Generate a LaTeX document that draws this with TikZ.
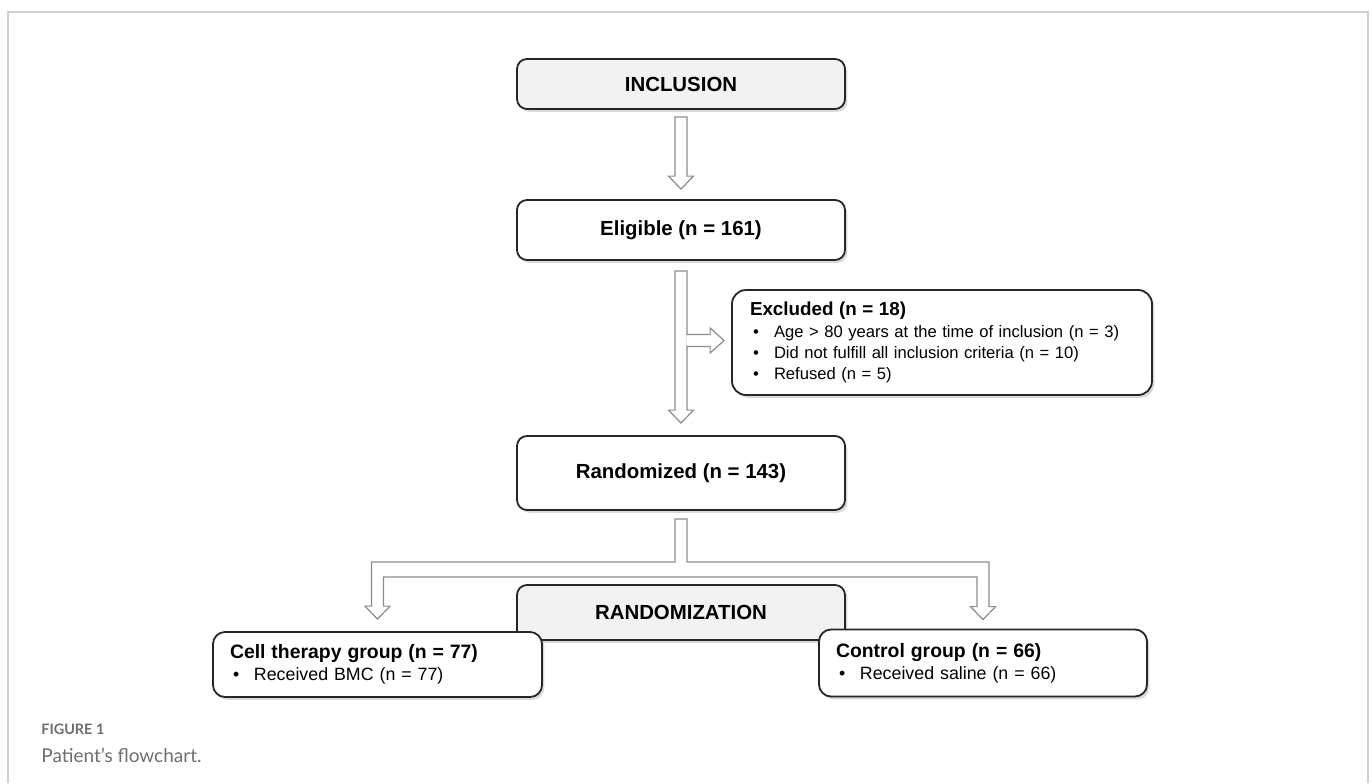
\documentclass[tikz,border=0pt]{standalone}
\usepackage{fontspec}
\setmainfont{Liberation Sans}
\newfontfamily\capfont{Lato}
\usetikzlibrary{calc,shadows}
\definecolor{boxgray}{HTML}{F2F2F2}
\definecolor{arrowgray}{HTML}{8C8C8C}
\definecolor{framegray}{HTML}{CFCFCF}
\definecolor{capgray}{HTML}{6D6E71}
\newcommand{\bulletitem}{\makebox[12pt][l]{\hspace{1.5pt}\textbullet}}
% block arrow pointing down, from top point #1 to tip #2
\newcommand{\blockdown}[2]{%
\draw[arrowline] ($(#1)+(-6,0)$) -- ($(#2)+(-6,-13)$) -- ($(#2)+(-12.5,-13)$) -- (#2) -- ($(#2)+(12.5,-13)$) -- ($(#2)+(6,-13)$) -- ($(#1)+(6,0)$) -- cycle;}

\begin{document}
\begin{tikzpicture}[x=0.5pt,y=-0.5pt,
  shade box/.style={drop shadow={shadow xshift=1.2pt,shadow yshift=-1.4pt,opacity=0.3}},
  stagebox/.style={draw=black!85,line width=0.9pt,rounded corners=5pt,fill=white,shade box,
    minimum width=164pt,inner sep=0pt,font=\fontsize{10.2}{12}\selectfont\bfseries},
  groupbox/.style={draw=black!85,line width=0.9pt,rounded corners=6pt,fill=white,shade box,
    align=left,inner xsep=8.5pt,inner ysep=0pt,font=\fontsize{8.9}{11}\selectfont},
  arrowline/.style={draw=arrowgray,line width=0.6pt,fill=white}]
\useasboundingbox (0,0) rectangle (1372,783);

% frame of the figure
\draw[framegray,line width=0.8pt] (8,783) -- (8,12) -- (1368,12) -- (1368,783);

\node[groupbox,text width=192pt,inner xsep=9pt,minimum height=52.5pt,rounded corners=7pt,
  font=\fontsize{8.3}{10.5}\selectfont] (excl) at (942,342.5)
  {{\fontsize{9.4}{11}\selectfont\bfseries Excluded (n = 18)}\\[0.6pt]
   \bulletitem Age > 80 years at the time of inclusion (n = 3)\\
   \bulletitem Did not fulfill all inclusion criteria (n = 10)\\
   \bulletitem Refused (n = 5)};
\node[stagebox,fill=boxgray,minimum height=25pt] (incl) at (681,84) {INCLUSION};
\node[stagebox,minimum height=30pt] (elig) at (681,230) {Eligible (n = 161)};
\node[stagebox,minimum height=37pt] (rand) at (681,473) {Randomized (n = 143)};

\coordinate (a1top) at ($(incl.south)+(0,7)$);
\coordinate (a1tip) at ($(elig.north)+(0,-10)$);
\blockdown{a1top}{a1tip}
\coordinate (a2top) at ($(elig.south)+(0,10)$);
\coordinate (a2tip) at ($(rand.north)+(0,-12)$);
\blockdown{a2top}{a2tip}
\coordinate (b2tip) at ($(excl.west)+(-7,-2)$);
\draw[arrowline] ($(b2tip -| a2top)+(5.4,-6)$) -- ($(b2tip)+(-14,-6)$) -- ($(b2tip)+(-14,-12.5)$) -- (b2tip)
  -- ($(b2tip)+(-14,12.5)$) -- ($(b2tip)+(-14,6)$) -- ($(b2tip -| a2top)+(5.4,6)$);

\node[stagebox,fill=boxgray,minimum height=27.5pt] (randz) at (681,612.5) {RANDOMIZATION};
\node[groupbox,text width=147.5pt,minimum height=32.5pt] (cell) at (377.5,664.5)
  {{\fontsize{9.7}{11}\selectfont\bfseries Cell therapy group (n = 77)}\\
   \bulletitem Received BMC (n = 77)};
\node[groupbox,text width=147pt,minimum height=33.5pt] (ctrl) at (983,663)
  {{\fontsize{9.7}{11}\selectfont\bfseries Control group (n = 66)}\\
   \bulletitem Received saline (n = 66)};

% split connector to both groups
\coordinate (stub) at ($(rand.south)+(0,8)$);
\coordinate (bandtop) at ($(stub)+(0,43)$);
\coordinate (ltip) at ($(cell.north)+(0,-12)$);
\coordinate (rtip) at ($(ctrl.north)+(0,-9)$);
\draw[arrowline] ($(stub)+(-6,0)$) -- ($(bandtop)+(-6,0)$) -- ($(bandtop -| ltip)+(-6,0)$)
  -- ($(ltip)+(-6,-13)$) -- ($(ltip)+(-12.5,-13)$) -- (ltip) -- ($(ltip)+(12.5,-13)$) -- ($(ltip)+(6,-13)$)
  -- ($(bandtop -| ltip)+(6,15)$) -- ($(bandtop -| rtip)+(-6,15)$)
  -- ($(rtip)+(-6,-13)$) -- ($(rtip)+(-12.5,-13)$) -- (rtip) -- ($(rtip)+(12.5,-13)$) -- ($(rtip)+(6,-13)$)
  -- ($(bandtop -| rtip)+(6,0)$) -- ($(bandtop)+(6,0)$) -- ($(stub)+(6,0)$) -- cycle;

% caption
\node[anchor=base west,inner sep=0pt,text=capgray,font=\capfont\bfseries\fontsize{7.2}{8}\selectfont] (fig) at (41,734) {FIGURE 1};
\node[anchor=base west,inner sep=0pt,text=capgray,font=\capfont\fontsize{9.5}{11}\selectfont] (title) at (41,762) {Patient’s flowchart.};
\end{tikzpicture}
\end{document}
